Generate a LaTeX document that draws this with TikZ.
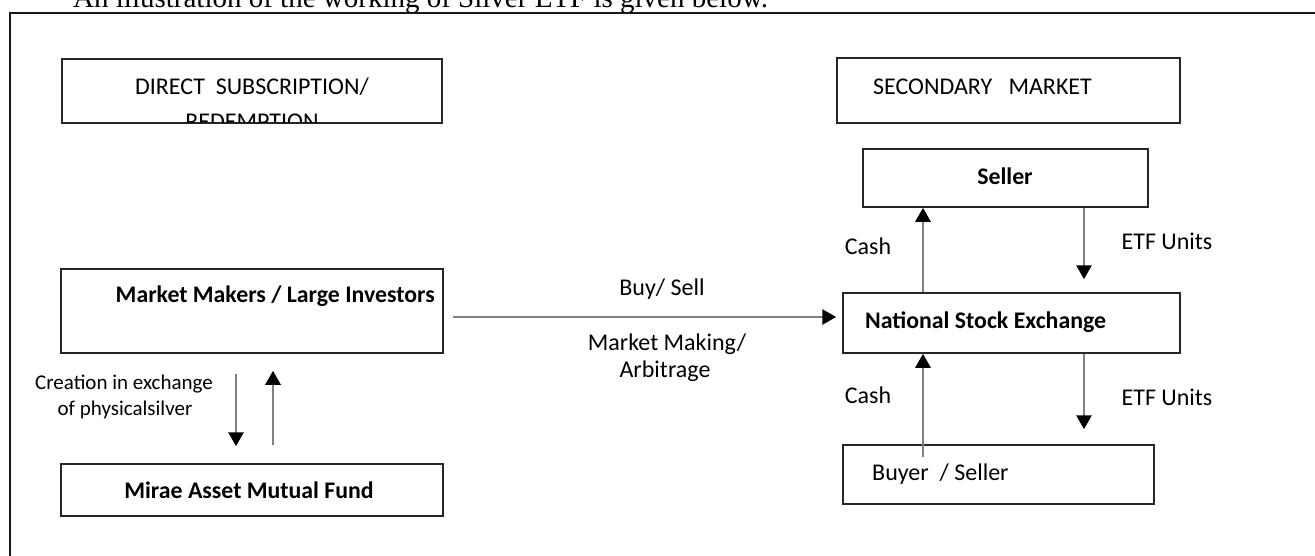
\documentclass[tikz,border=0pt]{standalone}
\usepackage{fontspec}
\setmainfont{Carlito}
\newfontfamily\titlefont{Liberation Serif}
\usetikzlibrary{arrows.meta}
\tikzset{
  box/.style={draw=black!85, line width=1.5pt, rectangle, inner sep=0pt},
  boldlbl/.style={anchor=base, font=\fontsize{23.8}{27}\selectfont\bfseries, inner sep=0pt},
  lbl/.style={anchor=base, font=\fontsize{24}{28}\selectfont, inner sep=0pt},
  smalllbl/.style={anchor=base, font=\fontsize{21}{26}\selectfont, inner sep=0pt},
  arr/.style={draw=black!50, line width=2.8pt, -{Triangle[length=14pt,width=15pt,color=black]}},
}
\begin{document}
\begin{tikzpicture}[x=1pt,y=-1pt]
\useasboundingbox (0,0) rectangle (1315,555);
\clip (0,0) rectangle (1315,555);
\fill[white] (0,0) rectangle (1315,555);
% title and frame
\node[anchor=base west, inner sep=0pt, font=\titlefont\fontsize{29}{32}\selectfont] (title) at (73,7) {An illustration of the working of Silver ETF is given below.};
\draw[line width=2pt, black!90] (10,560) -- (10,13) -- (1320,13);

% boxes
\node[box, minimum width=380pt, minimum height=64pt] (direct) at (252,91) {};
\node[box, minimum width=343pt, minimum height=65pt] (sec) at (1008.5,90.5) {};
\node[box, minimum width=285pt, minimum height=58pt] (seller) at (1005.5,178) {};
\node[box, minimum width=382pt, minimum height=84pt] (mm) at (252,311) {};
\node[box, minimum width=337pt, minimum height=60pt] (nse) at (1011.5,323) {};
\node[box, minimum width=382pt, minimum height=52pt] (mf) at (252,490) {};
\node[box, minimum width=311pt, minimum height=59pt] (buyer) at (998.5,474.5) {};

% box texts
\node[lbl] (directt) at (252,94) {DIRECT\ \ SUBSCRIPTION/};
\begin{scope}
\clip (62,59) rectangle (442,122.5);
\node[lbl] (redt) at (252,129) {REDEMPTION};
\end{scope}
\node[lbl, anchor=base west] (sect) at (873,94) {SECONDARY\ \ \ MARKET};
\node[boldlbl] (sellert) at (1005,184) {Seller};
\node[boldlbl, anchor=base east] (mmt) at (435,302) {Market Makers / Large Investors};
\node[boldlbl, anchor=base west] (nset) at (865,328) {National Stock Exchange};
\node[boldlbl] (mft) at (249,498) {Mirae Asset Mutual Fund};
\node[lbl, anchor=base west] (buyert) at (872,480) {Buyer\ \ / Seller};

% arrows
\draw[arr] ([xshift=-16pt,yshift=-20pt]mm.south) -- ([xshift=-16pt,yshift=17pt]mf.north);
\draw[arr] ([xshift=21pt,yshift=18pt]mf.north) -- ([xshift=21pt,yshift=-17pt]mm.south);
\draw[arr] ([xshift=9pt,yshift=-6pt]mm.east) -- ([xshift=-6pt,yshift=6pt]nse.west);
\draw[arr] ([xshift=-88.5pt]nse.north) -- ([xshift=-82.5pt]seller.south);
\draw[arr] ([xshift=78.5pt]seller.south) -- ([xshift=72.5pt,yshift=13pt]nse.north);
\draw[arr] ([xshift=-75.5pt,yshift=-13pt]buyer.north) -- ([xshift=-88.5pt]nse.south);
\draw[arr] ([xshift=72.5pt]nse.south) -- ([xshift=85.5pt,yshift=15pt]buyer.north);

% arrow labels
\node[smalllbl] (cr1) at (124,389) {Creation in exchange};
\node[smalllbl] (cr2) at (125,415) {of physicalsilver};
\node[lbl] (bs) at (662,295) {Buy/ Sell};
\node[lbl] (mk1) at (667,350) {Market Making/};
\node[lbl] (mk2) at (665,377) {Arbitrage};
\node[lbl] (cash1) at (868,254) {Cash};
\node[lbl] (etf1) at (1167,249) {ETF Units};
\node[lbl] (cash2) at (868,403) {Cash};
\node[lbl] (etf2) at (1167,405) {ETF Units};
\end{tikzpicture}
\end{document}
